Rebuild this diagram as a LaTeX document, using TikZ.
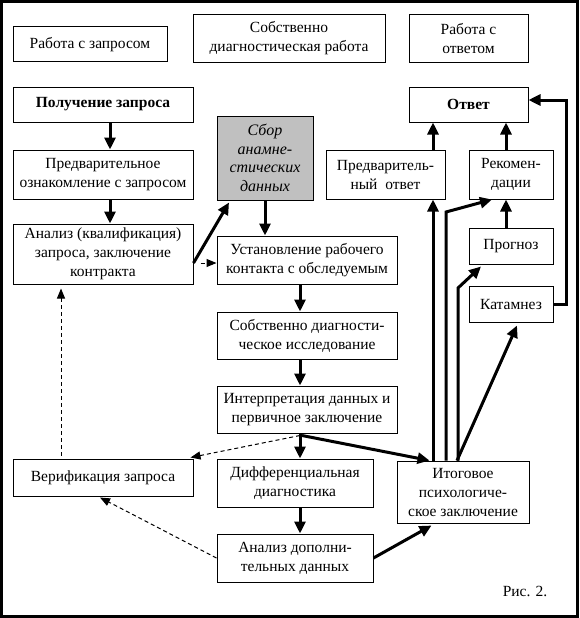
\documentclass[tikz,border=0pt]{standalone}
\usepackage{fontspec}
\setmainfont{Liberation Serif}
\usetikzlibrary{arrows.meta}
\definecolor{boxgray}{RGB}{192,192,192}
\tikzset{
  box/.style={draw, line width=1pt, align=center, inner sep=1pt,
    font=\fontsize{15.5}{19}\selectfont},
  arr/.style={line width=3pt, -{Triangle[length=12pt,width=11pt]}},
  darr/.style={line width=1pt, dash pattern=on 4pt off 3pt, -{Triangle[length=10pt,width=8pt]}},
  plain/.style={line width=3pt}
}
\begin{document}
\begin{tikzpicture}[x=1pt,y=-1pt]
\useasboundingbox (0,0) rectangle (579,618);
\draw[line width=3pt] (1.5,1.5) rectangle (577.5,616.5);

% header boxes
\node[box, minimum width=154pt, minimum height=35pt] (r1) at (90,44.5) {Работа с запросом};
\node[box, minimum width=192pt, minimum height=48pt] (r2) at (289,38.5) {Собственно\\диагностическая работа};
\node[box, minimum width=119pt, minimum height=48pt] (r3) at (468.5,38.5) {Работа с\\ответом};

% left column
\node[box, minimum width=180pt, minimum height=35pt, font=\fontsize{15.5}{19}\selectfont\bfseries] (get) at (103,104.5) {Получение запроса};
\node[box, minimum width=180pt, minimum height=49pt] (pre) at (103,174.5) {Предварительное\\ознакомление с запросом};
\node[box, minimum width=180pt, minimum height=60pt] (anal) at (103,254) {Анализ (квалификация)\\запроса, заключение\\контракта};
\node[box, minimum width=180pt, minimum height=37pt] (ver) at (103,477.5) {Верификация запроса};

% middle column
\node[box, fill=boxgray, minimum width=96pt, minimum height=84pt, font=\fontsize{16}{18.5}\selectfont\itshape] (sbor) at (265,158) {Сбор\\анамне-\\стических\\данных};
\node[box, minimum width=180pt, minimum height=48pt] (ust) at (307,260) {Установление рабочего\\контакта с обследуемым};
\node[box, minimum width=180pt, minimum height=47pt] (sobi) at (307,335.5) {Собственно диагности-\\ческое исследование};
\node[box, minimum width=180pt, minimum height=47pt] (interp) at (307,409.5) {Интерпретация данных и\\первичное заключение};
\node[box, minimum width=156pt, minimum height=48pt] (diff) at (295,483) {Дифференциальная\\диагностика};
\node[box, minimum width=156pt, minimum height=48pt] (adan) at (295,558) {Анализ дополни-\\тельных данных};

% right column
\node[box, minimum width=132pt, minimum height=62pt] (itog) at (463,492) {Итоговое\\психологиче-\\ское заключение};
\node[box, minimum width=119pt, minimum height=35pt, font=\fontsize{15.5}{19}\selectfont\bfseries] (ans) at (468.5,104.5) {Ответ};
\node[box, minimum width=119pt, minimum height=49pt] (pans) at (385.5,174.5) {Предваритель-\\ный~~ответ};
\node[box, minimum width=84pt, minimum height=49pt] (rec) at (511,174.5) {Рекомен-\\дации};
\node[box, minimum width=84pt, minimum height=36pt] (prog) at (511,246) {Прогноз};
\node[box, minimum width=84pt, minimum height=36pt] (kat) at (511,304) {Катамнез};

\node[font=\fontsize{15.5}{19}\selectfont] (fig) at (525,591) {Рис. 2.};

% bend coordinates
\coordinate (b1) at (446,212);
\coordinate (b2) at (458,288);
\coordinate (kc) at (566,100);
\coordinate (cL) at (110,0);
\coordinate (cM) at (300,0);
\coordinate (cA) at (433,0);
\coordinate (cR) at (506,0);

% left column arrows
\draw[arr] (get.south -| cL) -- (pre.north -| cL);
\draw[arr] (pre.south -| cL) -- (anal.north -| cL);
\draw[arr] ([shift={(0,9)}]anal.east) -- ([shift={(-36,2)}]sbor.south);
\draw[darr] ([shift={(7,9)}]anal.east) -- ([shift={(0,3)}]ust.west);
\draw[darr] ([shift={(-42,-3)}]ver.north) -- ([shift={(-42,4)}]anal.south);

% middle column arrows
\draw[arr] (sbor.south) -- (sbor.south |- ust.north);
\draw[arr] (ust.south -| cM) -- (sobi.north -| cM);
\draw[arr] (sobi.south -| cM) -- (interp.north -| cM);
\draw[arr] (interp.south -| cM) -- (diff.north -| cM);
\draw[arr] (diff.south -| cM) -- (adan.north -| cM);
\draw[arr] ([shift={(-5,2)}]interp.south) -- ([shift={(33,0)}]itog.north west);
\draw[darr] ([shift={(-7,2)}]interp.south) -- ([shift={(-3,-1)}]ver.north east);
\draw[darr] (adan.west) -- ([shift={(-3,1)}]ver.south);
\draw[arr] (adan.east) -- ([shift={(35,2)}]itog.south west);

% right column arrows
\draw[arr] (itog.north -| cA) -- (pans.south -| cA);
\draw[arr] (itog.north -| b1) -- (b1) -- ([shift={(-19,0)}]rec.south);
\draw[arr] (itog.north -| b2) -- (b2) -- ([shift={(-30,2)}]prog.south);
\draw[arr] ([shift={(-6,0)}]itog.north) -- ([shift={(6,3)}]kat.south);
\draw[arr] (prog.north -| cR) -- (rec.south -| cR);
\draw[arr] (rec.north -| cR) -- (ans.south -| cR);
\draw[arr] (pans.north -| cA) -- (ans.south -| cA);
\draw[arr] (kat.east) -- (kat.east -| kc) -- (kc) -- (kc -| ans.east);
\end{tikzpicture}
\end{document}
